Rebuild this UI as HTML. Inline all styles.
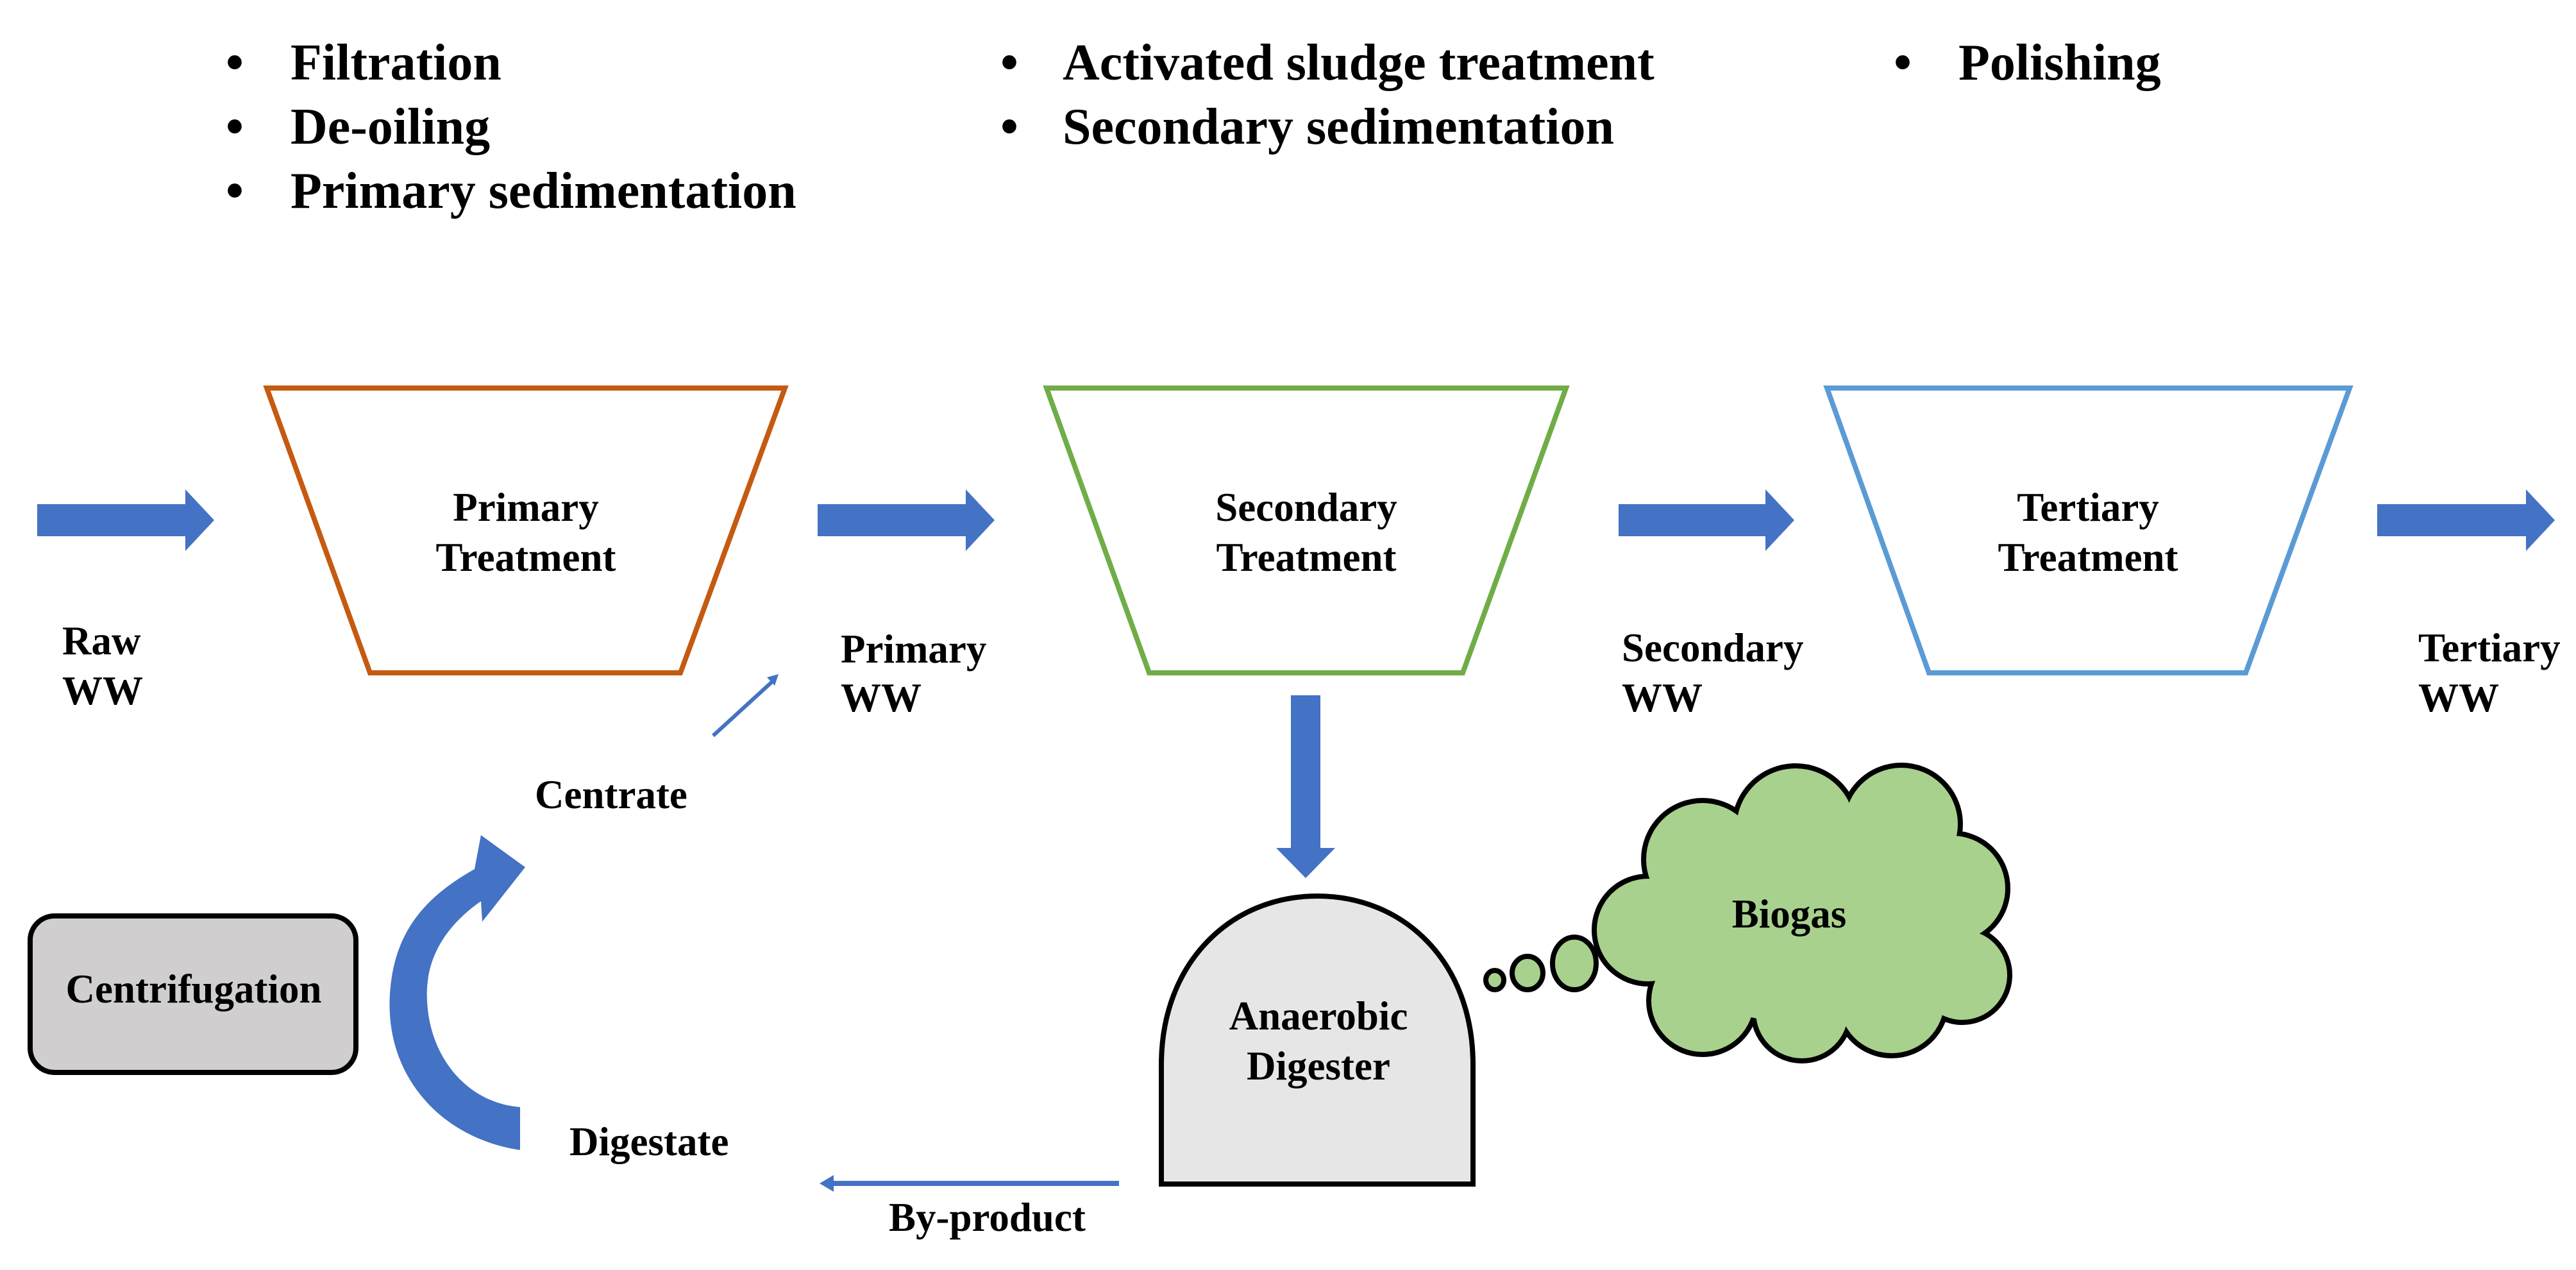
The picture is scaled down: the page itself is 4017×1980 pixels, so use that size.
<!DOCTYPE html>
<html><head><meta charset="utf-8"><style>
html,body{margin:0;padding:0;background:#fff;}
svg{display:block;}
text{font-family:"Liberation Serif",serif;font-weight:bold;fill:#000;}
</style></head><body>
<svg width="4017" height="1980" viewBox="0 0 4017 1980" xmlns="http://www.w3.org/2000/svg">
<rect width="4017" height="1980" fill="#fff"/>
<g font-size="80">
<text x="352" y="124">•</text><text x="453" y="124">Filtration</text>
<text x="352" y="224">•</text><text x="453" y="224">De-oiling</text>
<text x="352" y="324">•</text><text x="453" y="324">Primary sedimentation</text>
<text x="1560" y="124">•</text><text x="1657" y="124">Activated sludge treatment</text>
<text x="1560" y="224">•</text><text x="1657" y="224">Secondary sedimentation</text>
<text x="2953" y="124">•</text><text x="3054" y="124">Polishing</text>
</g>
<polygon points="416,605 1224,605 1061,1049 577,1049" fill="none" stroke="#c55a11" stroke-width="8"/>
<polygon points="1632,605 2442,605 2281,1049 1792,1049" fill="none" stroke="#70ad47" stroke-width="8"/>
<polygon points="2849,605 3664,605 3502,1049 3008,1049" fill="none" stroke="#5b9bd5" stroke-width="8"/>
<g fill="#4472c4">
<polygon points="58,786 289,786 289,763 334,811 289,859 289,836 58,836"/>
<polygon points="1275,786 1506,786 1506,763 1551,811 1506,859 1506,836 1275,836"/>
<polygon points="2524,786 2753,786 2753,763 2798,811 2753,859 2753,836 2524,836"/>
<polygon points="3707,786 3939,786 3939,763 3984,811 3939,859 3939,836 3707,836"/>
<polygon points="2013,1084 2059,1084 2059,1322 2082,1322 2036,1369 1990,1322 2013,1322"/>
<polygon points="1745,1841 1300,1841 1300,1832 1278,1845 1300,1858 1300,1849 1745,1849"/>
<path d="M811,1793 C690,1775 600,1680 608,1550 C614,1455 660,1400 740,1355 L750,1302 L819,1352 L752,1437 L750,1405 C700,1440 662,1490 666,1560 C670,1650 730,1720 811,1726 Z"/>
</g>
<line x1="1112" y1="1147" x2="1205" y2="1062" stroke="#4472c4" stroke-width="6"/>
<polygon points="1214,1051 1196,1056 1208,1069" fill="#4472c4"/>
<g font-size="63">
<text x="820" y="812" text-anchor="middle">Primary</text>
<text x="820" y="890" text-anchor="middle">Treatment</text>
<text x="2037" y="812" text-anchor="middle">Secondary</text>
<text x="2037" y="890" text-anchor="middle">Treatment</text>
<text x="3256" y="812" text-anchor="middle">Tertiary</text>
<text x="3256" y="890" text-anchor="middle">Treatment</text>
<text x="97" y="1020">Raw</text><text x="97" y="1098">WW</text>
<text x="1311" y="1033">Primary</text><text x="1311" y="1109">WW</text>
<text x="2529" y="1031">Secondary</text><text x="2529" y="1109">WW</text>
<text x="3771" y="1031">Tertiary</text><text x="3771" y="1109">WW</text>
<text x="834" y="1260">Centrate</text>
<text x="888" y="1801">Digestate</text>
<text x="1386" y="1919">By-product</text>
</g>
<rect x="47" y="1428" width="508" height="244" rx="38" fill="#d0cece" stroke="#000" stroke-width="8"/>
<text x="302" y="1563" font-size="63" text-anchor="middle">Centrifugation</text>
<path d="M1811,1846 L1811,1660 C1811,1500 1920,1397 2054,1397 C2190,1397 2297,1500 2297,1660 L2297,1846 Z" fill="#e7e6e6" stroke="#000" stroke-width="8"/>
<text x="2056" y="1605" font-size="63" text-anchor="middle">Anaerobic</text>
<text x="2056" y="1683" font-size="63" text-anchor="middle">Digester</text>
<g fill="#a9d18e" stroke="#000" stroke-width="8">
<ellipse cx="2331" cy="1528" rx="14" ry="15"/>
<ellipse cx="2382" cy="1517" rx="24" ry="26"/>
<ellipse cx="2455" cy="1502" rx="34" ry="41"/>
</g>
<g stroke="#000" stroke-width="16" fill="#a9d18e">
<circle cx="2655" cy="1340" r="88"/>
<circle cx="2800" cy="1290" r="92"/>
<circle cx="2965" cy="1285" r="88"/>
<circle cx="3045" cy="1385" r="82"/>
<circle cx="3060" cy="1520" r="70"/>
<circle cx="2950" cy="1560" r="82"/>
<circle cx="2810" cy="1578" r="72"/>
<circle cx="2655" cy="1560" r="80"/>
<circle cx="2570" cy="1450" r="80"/>
</g>
<g fill="#a9d18e">
<circle cx="2655" cy="1340" r="88"/>
<circle cx="2800" cy="1290" r="92"/>
<circle cx="2965" cy="1285" r="88"/>
<circle cx="3045" cy="1385" r="82"/>
<circle cx="3060" cy="1520" r="70"/>
<circle cx="2950" cy="1560" r="82"/>
<circle cx="2810" cy="1578" r="72"/>
<circle cx="2655" cy="1560" r="80"/>
<circle cx="2570" cy="1450" r="80"/>
<ellipse cx="2810" cy="1435" rx="240" ry="160"/>
</g>
<text x="2790" y="1446" font-size="63" text-anchor="middle">Biogas</text>
</svg>
</body></html>
